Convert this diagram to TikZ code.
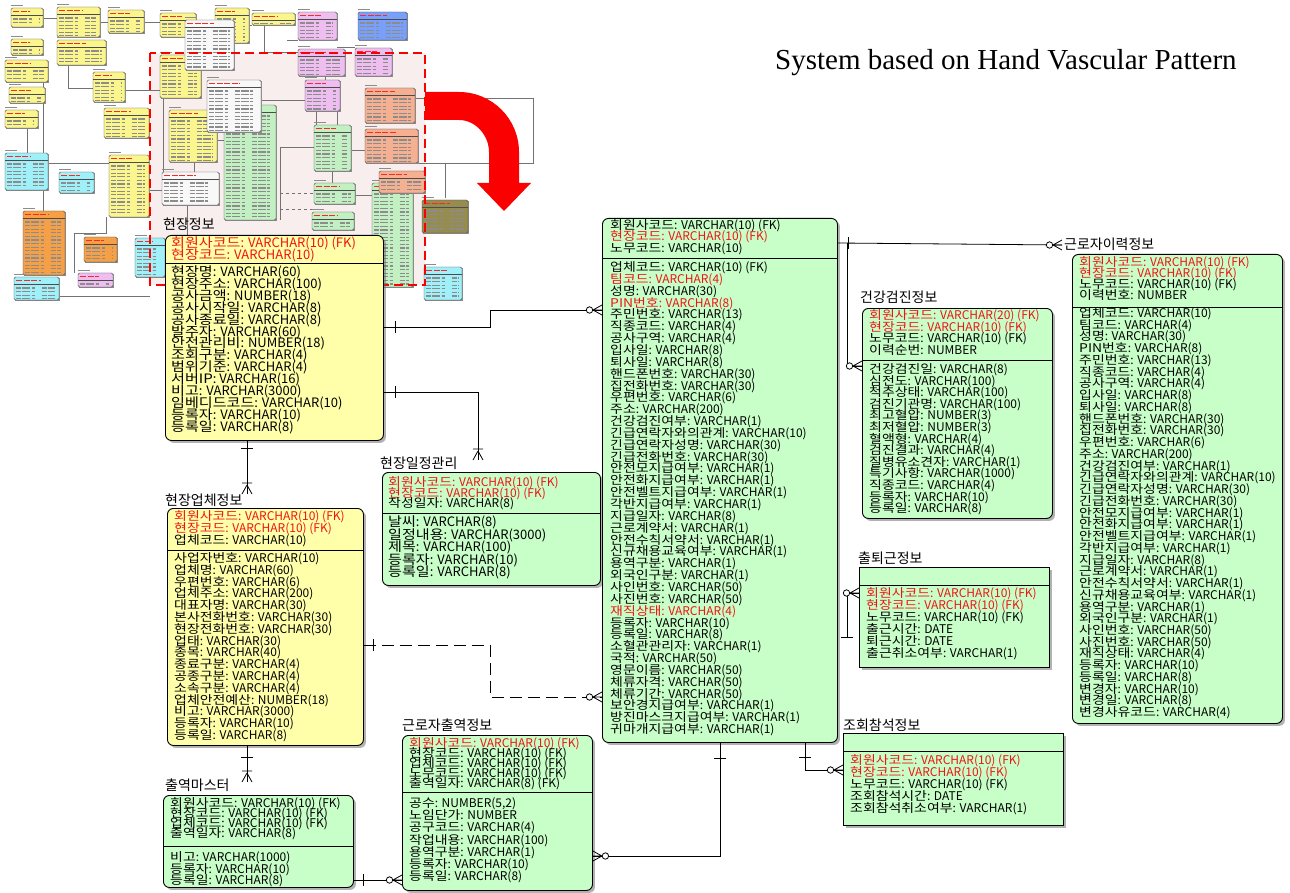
\documentclass[tikz,border=0pt]{standalone}
\usepackage{fontspec}
\setmainfont{Liberation Serif}
\newfontfamily\krfont{Noto Sans CJK KR}
\newfontfamily\krwide{Noto Sans CJK KR}[FakeStretch=1.16]
\usetikzlibrary{arrows.meta,positioning,shadows,calc}

\definecolor{entyellow}{RGB}{255,255,170}
\definecolor{entgreen}{RGB}{200,255,200}
\definecolor{keyred}{RGB}{240,20,20}
\definecolor{arrowred}{RGB}{250,0,0}
\definecolor{thpink}{RGB}{248,238,238}
\definecolor{thy}{RGB}{250,245,140}
\definecolor{thw}{RGB}{248,248,248}
\definecolor{thv}{RGB}{238,190,240}
\definecolor{thb}{RGB}{120,160,250}
\definecolor{thg}{RGB}{195,240,195}
\definecolor{ths}{RGB}{245,175,145}
\definecolor{tho}{RGB}{245,160,70}
\definecolor{thc}{RGB}{160,240,250}
\definecolor{thol}{RGB}{150,140,80}

\newcommand\keyc{\color{keyred}}
% column name wide, type narrow
\def\splitrow#1:#2\relax{\krwide#1\krfont:#2}
% one text row per line of an entity
\newcommand\entrows[6]{%
  \foreach \t [count=\i] in {#6}
    \node[#1] (#2-\i) at (#3,{#4+(\i-1)*#5}) {\expandafter\splitrow\t\relax};}
% small table of the overview picture
\newcommand\minitab[5]{%
  \fill[black!45] (#1+1.2,#2+1.2) rectangle (#3+1.2,#4+1.2);
  \filldraw[fill=#5,draw=black!70,line width=0.4pt,rounded corners=1.5pt] (#1,#2) rectangle (#3,#4);
  \draw[black!45,line width=0.8pt] (#1,#2-2.5) -- ++(12,0);
  \draw[red!85,line width=1.3pt,dash pattern=on 6pt off 1.5pt] (#1+2,#2+3.5) -- ({#1+0.6*(#3-#1)},#2+3.5);
  \draw[black!70,line width=0.3pt] (#1,#2+7.5) -- (#3,#2+7.5);
  \begin{scope}
    \clip (#1,#2+8.5) rectangle (#3,#4-1.5);
    \foreach \yy in {0,3.6,...,110}
      \draw[black!45,line width=1.1pt,dash pattern=on 5pt off 1.2pt on 8pt off 1.5pt on 3pt off 7pt]
        (#1+2,#2+11+\yy) -- ({#3-4},#2+11+\yy);
  \end{scope}}

\tikzset{
  entity/.style={draw,line width=0.9pt,rounded corners=6pt,anchor=north west,inner sep=0pt,
    drop shadow={shadow xshift=2.5pt,shadow yshift=-2.5pt,fill=black!60}},
  indep/.style={entity,rounded corners=0pt},
  entname/.style={anchor=base west,inner sep=0pt,font=\krfont\fontsize{14}{14}\selectfont},
  row/.style={anchor=base west,inner sep=0pt,font=\krfont\fontsize{12}{12}\selectfont},
  bigrow/.style={row,font=\krfont\fontsize{13}{12}\selectfont},
  rel/.style={line width=0.8pt},
  nonid/.style={rel,dash pattern=on 12pt off 6pt},
  thline/.style={black!55,line width=0.5pt},
  tickv/.pic={\draw[rel] (0,-6) -- (0,6);},
  tickh/.pic={\draw[rel] (-6,0) -- (6,0);},
  zmE/.pic={\draw[rel] (-9,0) -- (0,-5) (-9,0) -- (0,5) (-9,0) -- (0,0);
    \draw[rel,fill=white] (-12.5,0) circle (3.2pt);},
  zmW/.pic={\draw[rel] (9,0) -- (0,-5) (9,0) -- (0,5) (9,0) -- (0,0);
    \draw[rel,fill=white] (12.5,0) circle (3.2pt);},
  omS/.pic={\draw[rel] (0,-9) -- (-5,0) (0,-9) -- (5,0) (-5,-11) -- (5,-11);},
}

\begin{document}
\begin{tikzpicture}[x=1pt,y=-1pt]
  \useasboundingbox[fill=white] (0,0) rectangle (1290,893);

  %% overview of the whole model
  \begin{scope}
    \fill[thpink] (150,53) rectangle (425,285);
    \draw[thline] (43,18) -- (57,18) (100,22) -- (108,22) (144,22) -- (160,22) (196,25) -- (215,25)
      (249,25) -- (252,25) (27,128) -- (27,153) (43,82) -- (43,211) (48,163) -- (109,163)
      (68,65) -- (68,88) -- (93,88) (264,25) -- (264,52) -- (298,52) (287,40) -- (298,40)
      (337,47) -- (355,47) (325,76) -- (325,80) (316,111) -- (316,125) (337,111) -- (337,125)
      (332,171) -- (332,183) (280,147) -- (280,220) (280,147) -- (314,147)
      (415,98) -- (533,98) -- (533,163) -- (416,163) (445,163) -- (445,198)
      (74,233) -- (106,233) -- (106,217) (74,233) -- (74,273) (59,296) -- (150,296)
      (163,70) -- (163,172) (194,162) -- (194,172) (187,205) -- (187,238)
      (125,90) -- (160,90) (217,140) -- (224,140) (261,100) -- (305,100)
      (351,150) -- (365,150) (355,195) -- (372,195) (149,190) -- (169,190);
    \draw[thline,dashed] (280,193) -- (314,193) (280,209) -- (312,209);
    \foreach \a/\b/\c/\d/\col in {11/8/43/27/thy, 57/7/100/37/thy, 108/10/144/33/thy,
        160/13/196/37/thy, 215/8/249/43/thy, 252/13/295/25/thy, 11/39/43/55/thy,
        57/40/106/65/thy, 5/60/48/82/thy, 9/87/45/103/thy, 5/110/38/128/thy,
        93/72/125/102/thy, 104/108/149/138/thy, 160/55/201/98/thy, 169/110/217/162/thy,
        109/155/149/217/thy, 185/20/234/70/thw, 224/105/276/220/thg, 207/80/261/132/thw,
        162/172/219/205/thw, 298/12/337/40/thv, 298/49/345/76/thv, 355/48/392/76/thv,
        305/80/340/111/thv, 78/273/113/287/thv, 358/12/407/40/thb, 314/125/351/171/thg,
        314/183/355/204/thg, 312/212/354/230/thg, 372/183/413/287/thg, 365/88/415/123/ths,
        365/129/418/163/ths, 379/171/425/193/ths, 23/211/65/275/tho, 84/237/117/262/tho,
        5/153/48/190/thc, 59/172/94/193/thc, 14/277/59/300/thc, 135/238/165/277/thc,
        424/267/462/300/thc, 422/200/468/233/thol}
      {\minitab{\a}{\b}{\c}{\d}{\col}}
    \draw[arrowred,line width=2.8pt,dash pattern=on 9pt off 5pt] (150,53) rectangle (425,285);
  \end{scope}

  %% arrow to the enlarged part
  \fill[arrowred] (425,92) -- (459,92) .. controls (492.1,92) and (519,118.9) .. (519,152)
    -- (519,183) -- (531,183) -- (504,211) -- (477,183) -- (489,183) -- (489,152)
    .. controls (489,135.4) and (475.6,120) .. (459,120) -- (425,120) -- cycle;

  \node[anchor=base west,inner sep=0pt,font=\fontsize{29}{29}\selectfont] (subtitle)
    at (775,70) {System based on Hand Vascular Pattern};

  %% 현장정보
  \node[entname] (site-name) at (163,230) {현장정보};
  \node[entity,fill=entyellow,minimum width=218pt,minimum height=205pt] (site) at (165,235) {};
  \draw[rel] (site.west |- 0,263) -- (site.east |- 0,263);
  \entrows{bigrow}{sitek}{171}{247.5}{12}{\keyc 회원사코드: VARCHAR(10) (FK), \keyc 현장코드: VARCHAR(10)}
  \entrows{bigrow}{sitea}{171}{276.5}{11.9}{현장명: VARCHAR(60), 현장주소: VARCHAR(100),
    공사금액: NUMBER(18), 공사시작일: VARCHAR(8), 공사종료일: VARCHAR(8), 발주자: VARCHAR(60),
    안전관리비: NUMBER(18), 조회구분: VARCHAR(4), 범위기준: VARCHAR(4), 서버IP: VARCHAR(16),
    비고: VARCHAR(3000), 임베디드코드: VARCHAR(10), 등록자: VARCHAR(10), 등록일: VARCHAR(8)}

  %% 현장업체정보
  \node[entname] (firm-name) at (165,505) {현장업체정보};
  \node[entity,fill=entyellow,minimum width=196pt,minimum height=237pt] (firm) at (167,508) {};
  \draw[rel] (firm.west |- 0,550) -- (firm.east |- 0,550);
  \entrows{row}{firmk}{174}{520.5}{12}{\keyc 회원사코드: VARCHAR(10) (FK), \keyc 현장코드: VARCHAR(10) (FK),
    업체코드: VARCHAR(10)}
  \entrows{row}{firma}{174}{562.5}{11.8}{사업자번호: VARCHAR(10), 업체명: VARCHAR(60),
    우편번호: VARCHAR(6), 업체주소: VARCHAR(200), 대표자명: VARCHAR(30), 본사전화번호: VARCHAR(30),
    현장전화번호: VARCHAR(30), 업태: VARCHAR(30), 종목: VARCHAR(40), 종료구분: VARCHAR(4),
    공종구분: VARCHAR(4), 소속구분: VARCHAR(4), 업체안전예산: NUMBER(18), 비고: VARCHAR(3000),
    등록자: VARCHAR(10), 등록일: VARCHAR(8)}

  %% 출역마스터
  \node[entname] (dmaster-name) at (165,790) {출역마스터};
  \node[entity,fill=entgreen,minimum width=190pt,minimum height=92pt] (dmaster) at (163,795) {};
  \draw[rel] (dmaster.west |- 0,846) -- (dmaster.east |- 0,846);
  \entrows{row}{dmasterk}{170}{807.5}{10}{회원사코드: VARCHAR(10) (FK), 현장코드: VARCHAR(10) (FK),
    업체코드: VARCHAR(10) (FK), 출역일자: VARCHAR(8)}
  \entrows{row}{dmastera}{170}{861.5}{11.5}{비고: VARCHAR(1000), 등록자: VARCHAR(10), 등록일: VARCHAR(8)}

  %% 근로자출역정보
  \node[entname] (dwork-name) at (402,730) {근로자출역정보};
  \node[entity,fill=entgreen,minimum width=190pt,minimum height=155pt] (dwork) at (402,735) {};
  \draw[rel] (dwork.west |- 0,792) -- (dwork.east |- 0,792);
  \entrows{row}{dworkk}{409}{747.5}{10}{\keyc 회원사코드: VARCHAR(10) (FK), 현장코드: VARCHAR(10) (FK),
    업체코드: VARCHAR(10) (FK), 노무코드: VARCHAR(10) (FK), 출역일자: VARCHAR(8) (FK)}
  \entrows{row}{dworka}{409}{807.5}{12.2}{공수: NUMBER(5{,}2), 노임단가: NUMBER, 공구코드: VARCHAR(4),
    작업내용: VARCHAR(100), 용역구분: VARCHAR(1), 등록자: VARCHAR(10), 등록일: VARCHAR(8)}

  %% 현장일정관리
  \node[entname] (sched-name) at (380,468) {현장일정관리};
  \node[entity,fill=entgreen,minimum width=218pt,minimum height=113pt] (sched) at (382,472) {};
  \draw[rel] (sched.west |- 0,513) -- (sched.east |- 0,513);
  \entrows{row}{schedk}{388}{486.5}{10.5}{\keyc 회원사코드: VARCHAR(10) (FK), \keyc 현장코드: VARCHAR(10) (FK),
    작성일자: VARCHAR(8)}
  \entrows{bigrow}{scheda}{388}{526.5}{12.5}{날씨: VARCHAR(8), 일정내용: VARCHAR(3000),
    제목: VARCHAR(100), 등록자: VARCHAR(10), 등록일: VARCHAR(8)}

  %% 근로자 (centre)
  \node[entity,fill=entgreen,minimum width=235pt,minimum height=524pt] (worker) at (602,218) {};
  \draw[rel] (worker.west |- 0,258) -- (worker.east |- 0,258);
  \entrows{row}{workerk}{610}{229.5}{11.5}{회원사코드: VARCHAR(10) (FK), \keyc 현장코드: VARCHAR(10) (FK),
    노무코드: VARCHAR(10)}
  \entrows{row}{workera}{610}{271.5}{11.85}{업체코드: VARCHAR(10) (FK), \keyc 팀코드: VARCHAR(4),
    성명: VARCHAR(30), \keyc PIN번호: VARCHAR(8), 주민번호: VARCHAR(13), 직종코드: VARCHAR(4),
    공사구역: VARCHAR(4), 입사일: VARCHAR(8), 퇴사일: VARCHAR(8), 핸드폰번호: VARCHAR(30),
    집전화번호: VARCHAR(30), 우편번호: VARCHAR(6), 주소: VARCHAR(200), 건강검진여부: VARCHAR(1),
    긴급연락자와의관계: VARCHAR(10), 긴급연락자성명: VARCHAR(30), 긴급전화번호: VARCHAR(30),
    안전모지급여부: VARCHAR(1), 안전화지급여부: VARCHAR(1), 안전벨트지급여부: VARCHAR(1),
    각반지급여부: VARCHAR(1), 지급일자: VARCHAR(8), 근로계약서: VARCHAR(1), 안전수칙서약서: VARCHAR(1),
    신규채용교육여부: VARCHAR(1), 용역구분: VARCHAR(1), 외국인구분: VARCHAR(1), 사인번호: VARCHAR(50),
    사진번호: VARCHAR(50), \keyc 재직상태: VARCHAR(4), 등록자: VARCHAR(10), 등록일: VARCHAR(8),
    소혈관관리자: VARCHAR(1), 국적: VARCHAR(50), 영문이름: VARCHAR(50), 체류자격: VARCHAR(50),
    체류기간: VARCHAR(50), 보안경지급여부: VARCHAR(1), 방진마스크지급여부: VARCHAR(1),
    귀마개지급여부: VARCHAR(1)}

  %% 건강검진정보
  \node[entname] (health-name) at (860,302) {건강검진정보};
  \node[entity,fill=entgreen,minimum width=190pt,minimum height=210pt] (health) at (862,308) {};
  \draw[rel] (health.west |- 0,360) -- (health.east |- 0,360);
  \entrows{row}{healthk}{869}{319.5}{11.7}{\keyc 회원사코드: VARCHAR(20) (FK), \keyc 현장코드: VARCHAR(10) (FK),
    노무코드: VARCHAR(10) (FK), 이력순번: NUMBER}
  \entrows{row}{healtha}{869}{373.5}{11.6}{건강검진일: VARCHAR(8), 심전도: VARCHAR(100),
    척추상태: VARCHAR(100), 검진기관명: VARCHAR(100), 최고혈압: NUMBER(3), 최저혈압: NUMBER(3),
    혈액형: VARCHAR(4), 검진결과: VARCHAR(4), 질병유소견자: VARCHAR(1), 특기사항: VARCHAR(1000),
    직종코드: VARCHAR(4), 등록자: VARCHAR(10), 등록일: VARCHAR(8)}

  %% 출퇴근정보
  \node[entname] (commute-name) at (858,563) {출퇴근정보};
  \node[indep,fill=entgreen,minimum width=190pt,minimum height=100pt] (commute) at (859,567) {};
  \draw[rel] (commute.west |- 0,585) -- (commute.east |- 0,585);
  \entrows{row}{commutea}{866}{597.5}{11.9}{\keyc 회원사코드: VARCHAR(10) (FK), \keyc 현장코드: VARCHAR(10) (FK),
    노무코드: VARCHAR(10) (FK), 출근시간: DATE, 퇴근시간: DATE, 출근취소여부: VARCHAR(1)}

  %% 조회참석정보
  \node[entname] (meeting-name) at (843,730) {조회참석정보};
  \node[indep,fill=entgreen,minimum width=220pt,minimum height=92pt] (meeting) at (843,733) {};
  \draw[rel] (meeting.west |- 0,751) -- (meeting.east |- 0,751);
  \entrows{row}{meetinga}{850}{764.5}{12}{\keyc 회원사코드: VARCHAR(10) (FK), \keyc 현장코드: VARCHAR(10) (FK),
    노무코드: VARCHAR(10) (FK), 조회참석시간: DATE, 조회참석취소여부: VARCHAR(1)}

  %% 근로자이력정보
  \node[entname] (history-name) at (1064,250) {근로자이력정보};
  \node[entity,fill=entgreen,minimum width=210pt,minimum height=469pt] (history) at (1072,254) {};
  \draw[rel] (history.west |- 0,307) -- (history.east |- 0,307);
  \entrows{row}{historyk}{1079}{266.5}{11}{\keyc 회원사코드: VARCHAR(10) (FK), \keyc 현장코드: VARCHAR(10) (FK),
    노무코드: VARCHAR(10) (FK), 이력번호: NUMBER}
  \entrows{row}{historya}{1079}{317.5}{11.74}{업체코드: VARCHAR(10), 팀코드: VARCHAR(4), 성명: VARCHAR(30),
    PIN번호: VARCHAR(8), 주민번호: VARCHAR(13), 직종코드: VARCHAR(4), 공사구역: VARCHAR(4),
    입사일: VARCHAR(8), 퇴사일: VARCHAR(8), 핸드폰번호: VARCHAR(30), 집전화번호: VARCHAR(30),
    우편번호: VARCHAR(6), 주소: VARCHAR(200), 건강검진여부: VARCHAR(1), 긴급연락자와의관계: VARCHAR(10),
    긴급연락자성명: VARCHAR(30), 긴급전화번호: VARCHAR(30), 안전모지급여부: VARCHAR(1),
    안전화지급여부: VARCHAR(1), 안전벨트지급여부: VARCHAR(1), 각반지급여부: VARCHAR(1),
    지급일자: VARCHAR(8), 근로계약서: VARCHAR(1), 안전수칙서약서: VARCHAR(1),
    신규채용교육여부: VARCHAR(1), 용역구분: VARCHAR(1), 외국인구분: VARCHAR(1), 사인번호: VARCHAR(50),
    사진번호: VARCHAR(50), 재직상태: VARCHAR(4), 등록자: VARCHAR(10), 등록일: VARCHAR(8),
    변경자: VARCHAR(10), 변경일: VARCHAR(8), 변경사유코드: VARCHAR(4)}

  %% relationships
  \coordinate (schedtop) at (478,460);
  \coordinate (firmtop) at (247,494);
  \coordinate (dmastertop) at (247,782);
  \coordinate (histend) at (1062,245);
  \draw[rel] (site.east |- 0,327) -- (490,327) -- (490,310) -- (worker.west |- 0,310);
  \pic at (395,327) {tickv};
  \pic at (worker.west |- 0,310) {zmE};
  \draw[rel] (site.east |- 0,392) -- (478,392) -- (schedtop);
  \pic at (395,392) {tickv};
  \pic at (schedtop) {omS};
  \draw[rel] (site.south -| firmtop) -- (firmtop);
  \pic at (247,448) {tickh};
  \pic at (firmtop) {omS};
  \draw[rel] (firm.south -| dmastertop) -- (dmastertop);
  \pic at (247,757) {tickh};
  \pic at (dmastertop) {omS};
  \draw[nonid] (firm.east |- 0,645) -- (490,645) -- (490,697) -- (worker.west |- 0,697);
  \pic at (373,645) {tickv};
  \pic at (worker.west |- 0,697) {zmE};
  \draw[rel] (dmaster.east |- 0,880) -- (dwork.west |- 0,880);
  \pic at (363,880) {tickv};
  \pic at (dwork.west |- 0,880) {zmE};
  \draw[rel] (worker.south -| 720,0) -- (720,856) -- (dwork.east |- 0,856);
  \pic at (720,758) {tickh};
  \pic at (dwork.east |- 0,856) {zmW};
  \draw[rel] (worker.south -| 805,0) -- (805,770) -- (meeting.west |- 0,770);
  \pic at (805,757) {tickh};
  \pic at (meeting.west |- 0,770) {zmE};
  \draw[rel] (worker.east |- 0,243) -- (histend);
  \pic at (848,243) {tickv};
  \pic at (histend) {zmE};
  \draw[rel] (847,243) -- (847,366) -- (health.west |- 0,366);
  \pic at (health.west |- 0,366) {zmE};
  \draw[rel] (847,637) -- (847,593) -- (commute.west |- 0,593);
  \pic at (847,637) {tickh};
  \pic at (commute.west |- 0,593) {zmE};
\end{tikzpicture}
\end{document}
